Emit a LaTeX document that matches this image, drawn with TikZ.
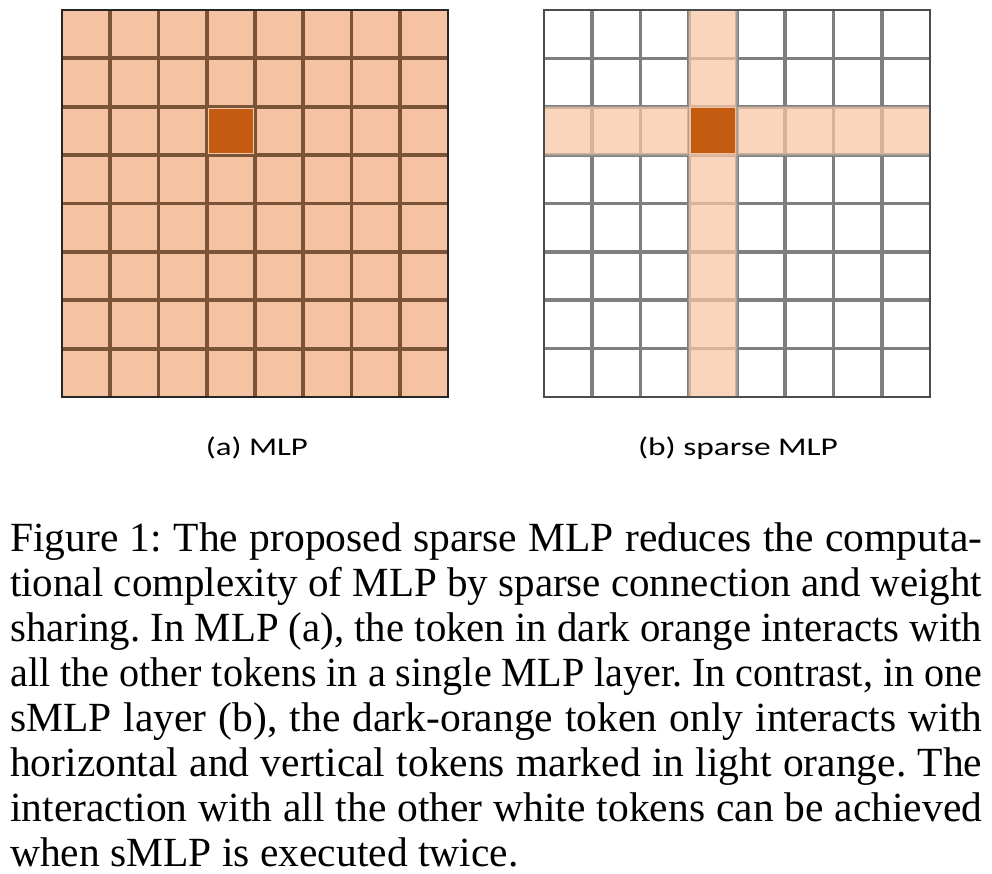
\documentclass[tikz,border=0pt]{standalone}
\usepackage{fontspec}
\usepackage{graphicx}
\setmainfont{Liberation Serif}
\newfontfamily\labfont{Carlito}
\definecolor{peach}{HTML}{F5C3A1}
\definecolor{bandpeach}{HTML}{F7C6A4}
\definecolor{gridbrown}{HTML}{7B5437}
\definecolor{gridgrey}{HTML}{7F7F7F}
\definecolor{darkorange}{HTML}{C55A11}
\definecolor{celledge}{HTML}{F2C8AA}
\newlength{\capW}\setlength{\capW}{972pt}
\newlength{\natW}
\newcommand{\jline}[1]{\settowidth{\natW}{#1}%
  \ifdim\natW>\capW\resizebox{\capW}{\height}{#1}\else\makebox[\capW][s]{#1}\fi}
\tikzset{
  brownline/.style={gridbrown, line width=3.8pt},
  greyline/.style={gridgrey, line width=3.6pt},
  outerA/.style={black!85, line width=1.4pt},
  outerB/.style={black!70, line width=1.4pt},
  darkcell/.style={fill=darkorange, draw=celledge, line width=0.9pt},
  band/.style={fill=bandpeach, fill opacity=0.72, draw=gridgrey!80, draw opacity=0.8, line width=1.4pt},
  sublabel/.style={font=\labfont\fontsize{25.5}{30}\selectfont, anchor=base, inner sep=0pt},
  capline/.style={font=\fontsize{41.5}{45}\selectfont, anchor=base west, inner sep=0pt}
}
\begin{document}
\frenchspacing
\begin{tikzpicture}[x=1pt,y=-1pt]
\useasboundingbox (0,0) rectangle (992,874);
% ---------- (a) MLP grid ----------
\fill[peach] (62,10) rectangle (448,397);
\foreach \i in {1,...,7}{
  \draw[brownline] ({62+\i*48.25},10) -- ({62+\i*48.25},397);
  \draw[brownline] (62,{10+\i*48.375}) -- (448,{10+\i*48.375});
}
\draw[darkcell] (208.5,108.5) rectangle (253.3,153.4);
\draw[outerA] (62,10) rectangle (448,397);
% ---------- (b) sparse MLP grid ----------
\fill[white] (544,10) rectangle (930,397);
\foreach \i in {1,...,7}{
  \draw[greyline] ({544+\i*48.25},10) -- ({544+\i*48.25},397);
  \draw[greyline] (544,{10+\i*48.375}) -- (930,{10+\i*48.375});
}
\draw[band] (544,106.75) rectangle (930,155.1);
\draw[band] (688.75,10) rectangle (737,397);
\fill[darkorange] (690.5,108.5) rectangle (735.3,153.4);
\draw[outerB] (544,10) rectangle (930,397);
% ---------- sub-labels ----------
\node[sublabel] (la) at (257,455) {\resizebox{102pt}{\height}{(a) MLP}};
\node[sublabel] (lb) at (738,455) {\resizebox{200pt}{\height}{(b) sparse MLP}};
% ---------- caption ----------
\node[capline] (c1) at (10,551) {\jline{Figure 1: The proposed sparse MLP reduces the computa-}};
\node[capline] (c2) at (10,596) {\jline{tional complexity of MLP by sparse connection and weight}};
\node[capline] (c3) at (10,641) {\jline{sharing. In MLP (a), the token in dark orange interacts with}};
\node[capline] (c4) at (10,686) {\jline{all the other tokens in a single MLP layer. In contrast, in one}};
\node[capline] (c5) at (10,731) {\jline{sMLP layer (b), the dark-orange token only interacts with}};
\node[capline] (c6) at (10,776) {\jline{horizontal and vertical tokens marked in light orange. The}};
\node[capline] (c7) at (10,821) {\jline{interaction with all the other white tokens can be achieved}};
\node[capline] (c8) at (10,866) {when sMLP is executed twice.};
\end{tikzpicture}
\end{document}
